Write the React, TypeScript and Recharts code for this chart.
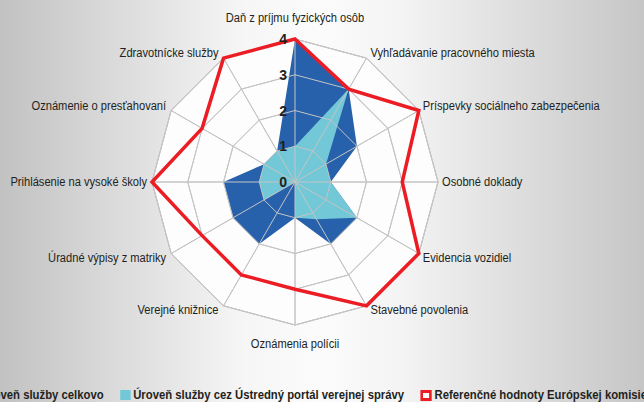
import React from "react";
import { Legend, PolarAngleAxis, PolarGrid, PolarRadiusAxis, Radar, RadarChart } from "recharts";

const CATEGORIES = [
  "Daň z príjmu fyzických osôb",
  "Vyhľadávanie pracovného miesta",
  "Príspevky sociálneho zabezpečenia",
  "Osobné doklady",
  "Evidencia vozidiel",
  "Stavebné povolenia",
  "Oznámenia polícii",
  "Verejné knižnice",
  "Úradné výpisy z matriky",
  "Prihlásenie na vysoké školy",
  "Oznámenie o presťahovaní",
  "Zdravotnícke služby",
];
const TOTAL = [4, 3, 2, 1, 2, 2, 1, 2, 2, 2, 1, 1];
const PORTAL = [1, 3, 1, 1, 2, 1.2, 1, 0, 1, 1, 1, 1];
const REFERENCE = [4, 3, 4, 3, 4, 4, 3, 3, 3, 4, 3, 4];
const RADIUS_TICKS = [0, 1, 2, 3, 4];

const SERIES = [
  { key: "total", name: "Úroveň služby celkovo", color: "#2761ab" },
  { key: "portal", name: "Úroveň služby cez Ústredný portál verejnej správy", color: "#72c8d7" },
  { key: "reference", name: "Referenčné hodnoty Európskej komisie", color: "#ec1c24" },
];

const W = 644;
const H = 402;
const CX = 295;
const CY = 182;
const R = 143;
const FONT = '"Liberation Sans", Arial, sans-serif';
const LABEL_SCALE = 0.89;
const LEGEND_SCALE = 0.87;

const data = CATEGORIES.map((name, i) => ({
  name,
  total: TOTAL[i],
  portal: PORTAL[i],
  reference: REFERENCE[i],
}));

function AngleTick(props: any) {
  const { payload } = props;
  const a = (payload.coordinate * Math.PI) / 180;
  const cos = Math.cos(a);
  const sin = Math.sin(a);
  const px = CX + R * cos;
  const py = CY - R * sin;
  let x = px;
  let y = py;
  let anchor: "start" | "middle" | "end" = "middle";
  if (Math.abs(cos) < 0.01) {
    y = sin > 0 ? py - 21 : py + 19;
  } else {
    anchor = cos > 0 ? "start" : "end";
    x = px + (cos > 0 ? 4 : -5);
    if (sin > 0.01) y = py - 5;
    else if (sin < -0.01) y = py + 4;
  }
  return (
    <g transform={`translate(${x},${y}) scale(${LABEL_SCALE},1)`}>
      <text x={0} y={0} textAnchor={anchor} dominantBaseline="central" fontSize={12.5} fontFamily={FONT} fill="#231f20">
        {payload.value}
      </text>
    </g>
  );
}

function RadiusTick(props: any) {
  const { x, y, payload } = props;
  return (
    <text x={x - 8} y={y} textAnchor="end" dominantBaseline="central" fontSize={14} fontWeight="bold" fontFamily={FONT} fill="#231f20">
      {payload.value}
    </text>
  );
}

function LegendContent() {
  return (
    <div
      style={{
        display: "flex",
        alignItems: "center",
        whiteSpace: "nowrap",
        fontFamily: FONT,
        fontWeight: "bold",
        fontSize: 13,
        lineHeight: "14px",
        color: "#231f20",
        transform: `scaleX(${LEGEND_SCALE})`,
        transformOrigin: "0 0",
      }}
    >
      {SERIES.map((s) => (
        <span key={s.key} style={{ display: "inline-flex", alignItems: "center", marginRight: 19 }}>
          {s.key === "reference" ? (
            <span style={{ boxSizing: "border-box", width: 13, height: 11, border: `3px solid ${s.color}`, background: "#fff", marginRight: 3 }} />
          ) : (
            <span style={{ width: 12, height: 10, background: s.color, marginRight: 3 }} />
          )}
          {s.name}
        </span>
      ))}
    </div>
  );
}

export default function App() {
  return (
    <div
      style={{
        position: "absolute",
        left: 0,
        top: 0,
        width: W,
        height: H,
        overflow: "hidden",
        background: "linear-gradient(90deg, #c2c2c2 0%, #f6f6f6 38%, #fbfbfb 50%, #f4f4f4 62%, #c6c6c6 100%)",
      }}
    >
      <RadarChart width={W} height={H} data={data} cx={CX} cy={CY} outerRadius={R} startAngle={90} endAngle={-270}>
        <PolarGrid gridType="polygon" stroke="#c4c4c4" strokeWidth={1} fill="#fdfdfd" fillOpacity={1} />
        <PolarRadiusAxis angle={90} domain={[0, 4]} ticks={RADIUS_TICKS as any} tickCount={5} axisLine={false} tick={<RadiusTick />} />
        <Radar dataKey="total" name={SERIES[0].name} fill={SERIES[0].color} fillOpacity={1} stroke="none" isAnimationActive={false} />
        <Radar dataKey="portal" name={SERIES[1].name} fill={SERIES[1].color} fillOpacity={1} stroke="none" isAnimationActive={false} />
        {/* grid drawn again over the filled areas */}
        <PolarGrid gridType="polygon" stroke="#c4c4c4" strokeWidth={1} fill="none" {...({ zIndex: 300 } as any)} />
        <Radar dataKey="reference" name={SERIES[2].name} fill="none" fillOpacity={0} stroke={SERIES[2].color} strokeWidth={3.5} isAnimationActive={false} {...({ zIndex: 400 } as any)} />
        <PolarAngleAxis dataKey="name" tick={<AngleTick />} tickLine={false} axisLine={false} />
        <Legend content={<LegendContent />} wrapperStyle={{ left: -32, top: 388, width: 780 }} />
      </RadarChart>
    </div>
  );
}
